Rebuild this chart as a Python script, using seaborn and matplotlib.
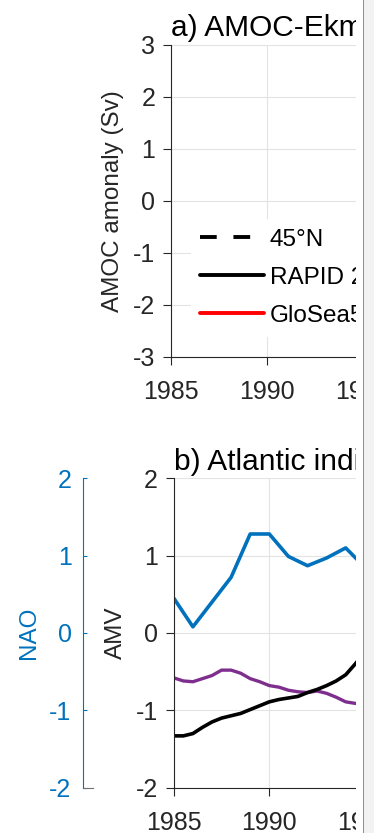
import numpy as np
import pandas as pd
import matplotlib
matplotlib.use("Agg")
import matplotlib.pyplot as plt
import seaborn as sns
from matplotlib.lines import Line2D
from matplotlib.patches import Rectangle

# ---------------- data ----------------
nao_years = [1985, 1986, 1987, 1988, 1989, 1990, 1991, 1992, 1993, 1994, 1995]
nao_values = [0.45, 0.08, 0.40, 0.72, 1.28, 1.28, 0.99, 0.87, 0.97, 1.10, 0.85]

amv_years = [1985.0, 1985.5, 1986.0, 1986.5, 1987.0, 1987.5, 1988.0, 1988.5,
             1989.0, 1989.5, 1990.0, 1990.5, 1991.0, 1991.5, 1992.0, 1992.5,
             1993.0, 1993.5, 1994.0, 1994.5, 1995.0]
amv_values = [-1.33, -1.33, -1.30, -1.22, -1.15, -1.10, -1.07, -1.04,
              -0.99, -0.94, -0.89, -0.86, -0.84, -0.82, -0.77, -0.73,
              -0.68, -0.62, -0.54, -0.40, -0.25]
purple_values = [-0.58, -0.62, -0.63, -0.59, -0.55, -0.48, -0.48, -0.52,
                 -0.59, -0.63, -0.68, -0.70, -0.74, -0.76, -0.77, -0.75,
                 -0.78, -0.83, -0.89, -0.91, -0.92]

legend_labels = ["45\u00b0N", "RAPID 26\u00b0N", "GloSea5"]
xticks = [1985, 1990, 1995, 2000]
yticks_a = [-3, -2, -1, 0, 1, 2, 3]
yticks_b = [-2, -1, 0, 1, 2]

# ---------------- style ----------------
sns.set_style("ticks")
plt.rcParams['font.family'] = ['Liberation Sans', 'DejaVu Sans']
plt.rcParams['axes.unicode_minus'] = False

AX_COL = '#262626'
BLUE = '#0072BD'
PURPLE = '#7E2F8E'
GRID = '#e3e3e3'
FS = 18

W, H = 374, 833
fig = plt.figure(figsize=(W / 100, H / 100), dpi=100)
fig.patch.set_facecolor('white')


def rect(left, top, width, height):
    return [left / W, 1 - (top + height) / H, width / W, height / H]


def style_axes(ax):
    for s in ['top', 'right']:
        ax.spines[s].set_visible(False)
    for s in ['left', 'bottom']:
        ax.spines[s].set_color(AX_COL)
        ax.spines[s].set_linewidth(0.8)
    ax.tick_params(axis='both', direction='out', length=5.5, width=0.8,
                   color=AX_COL, labelcolor=AX_COL, labelsize=FS)
    ax.tick_params(axis='y', pad=6.0)
    ax.tick_params(axis='x', pad=11)
    ax.grid(True, color=GRID, linewidth=0.8)
    ax.set_axisbelow(True)
    ax.set_facecolor('none')


# ---------------- panel a ----------------
axA = fig.add_axes(rect(171.3, 44.7, 15 * 19.2, 312))
style_axes(axA)
axA.set_xlim(1985, 2000)
axA.set_ylim(-3, 3)
axA.set_xticks(xticks)
axA.set_yticks(yticks_a)
axA.set_title("a) AMOC-Ekman", loc='left', fontsize=21.5, pad=6, color='black')
axA.set_ylabel("AMOC amonaly (Sv)", fontsize=17.5, color=AX_COL)
axA.yaxis.set_label_coords((124 - 171.3) / 288, 0.5)

handles = [
    Line2D([], [], color='black', lw=2.8, ls=(0, (4.3, 4.3)), label=legend_labels[0]),
    Line2D([], [], color='black', lw=2.8, label=legend_labels[1]),
    Line2D([], [], color='#ff0000', lw=2.8, label=legend_labels[2]),
]
leg = axA.legend(handles=handles, loc='upper left',
                 bbox_to_anchor=((190.7 - 171.3) / 288, (356.7 - 219) / 312),
                 borderaxespad=0, frameon=True, framealpha=1, edgecolor='none',
                 facecolor='white', fancybox=False, handlelength=2.6,
                 handletextpad=0.25, labelspacing=0.66, borderpad=0.4,
                 fontsize=17.5)
for t in leg.get_texts():
    t.set_color('black')

# ---------------- panel b ----------------
axB = fig.add_axes(rect(173.8, 478.3, 15 * 19.1, 309.4))
style_axes(axB)

df_nao = pd.DataFrame({'year': nao_years, 'value': nao_values})
df_amv = pd.DataFrame({'year': amv_years, 'amv': amv_values, 'other': purple_values})

sns.lineplot(data=df_nao, x='year', y='value', ax=axB, color=BLUE, lw=2.6)
sns.lineplot(data=df_amv, x='year', y='other', ax=axB, color=PURPLE, lw=2.4)
sns.lineplot(data=df_amv, x='year', y='amv', ax=axB, color='black', lw=2.6)

axB.set_xlim(1985, 2000)
axB.set_ylim(-2, 2)
axB.set_xticks(xticks)
axB.set_yticks(yticks_b)
axB.set_xlabel("")
axB.set_ylabel("AMV", fontsize=17.5, color=AX_COL)
axB.yaxis.set_label_coords((127 - 173.8) / 286.5, 0.5)
axB.set_title("b) Atlantic indices", loc='left', fontsize=21.5, pad=6, color='black')

# NAO axis
axN = fig.add_axes(rect(82.7, 478.3, 10, 309.4))
axN.set_facecolor('none')
axN.set_ylim(-2, 2)
axN.set_yticks(yticks_b)
axN.set_xticks([])
for s in ['top', 'right']:
    axN.spines[s].set_visible(False)
axN.spines['left'].set_color(BLUE)
axN.spines['left'].set_linewidth(0.8)
axN.spines['bottom'].set_color('#707070')
axN.spines['bottom'].set_linewidth(0.8)
axN.tick_params(axis='y', direction='in', length=3, width=0.8, color=BLUE,
                labelcolor=BLUE, labelsize=FS, pad=8.0)
axN.set_ylabel("NAO", fontsize=17.5, color=BLUE)
axN.yaxis.set_label_coords((40 - 82.7) / 10, 0.5)

# ---------------- cropped right edge ----------------
fig.add_artist(Rectangle((356 / W, 0), (363 - 356) / W, 1, transform=fig.transFigure,
                         facecolor='white', edgecolor='none', zorder=20))
fig.add_artist(Rectangle((362.8 / W, 0), 1.6 / W, 1, transform=fig.transFigure,
                         facecolor='#dc6a80', edgecolor='none', zorder=21))
fig.add_artist(Rectangle((364.4 / W, 0), (W - 364.4) / W, 1, transform=fig.transFigure,
                         facecolor='#f2f2f2', edgecolor='none', zorder=20))

fig.savefig('out.png', dpi=100)
